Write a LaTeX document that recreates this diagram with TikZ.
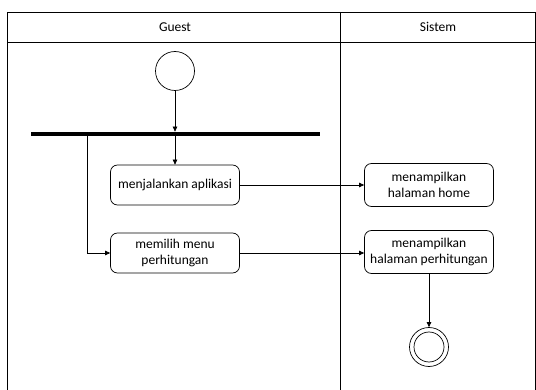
\documentclass[tikz,border=0pt]{standalone}
\usepackage{fontspec}
\setmainfont{Carlito}
\usetikzlibrary{arrows.meta}

\begin{document}
\begin{tikzpicture}[x=1pt,y=-1pt,line width=0.7pt,>={Triangle[length=5pt,width=4.5pt]},
font=\fontsize{13.5}{15.5}\selectfont,
act/.style={draw,rounded corners=7pt,minimum width=129pt,minimum height=40pt,align=center,inner sep=1pt},
state/.style={draw,circle,minimum size=39pt,inner sep=0pt}]
\useasboundingbox(0,0)rectangle(536,390);
% swimlanes
\draw(7,390)--(7,12)--(535,12)--(535,390)
(7,42)--(535,42)
(340,12)--(340,390);
\node(guest)at(175,27){Guest};
\node(sistem)at(438,27){Sistem};
% guest
\node[state](start)at(175,71){};
\node[fill,inner sep=0pt,minimum width=289pt,minimum height=4pt](bar)at(175.5,134){};
\node[act](run)at(175,185){menjalankan aplikasi};
\node[act](menu)at(175,253){memilih menu\\perhitungan};
% sistem
\node[act,minimum height=43pt](home)at(429,185){menampilkan\\halaman home};
\node[act,minimum height=43pt](hitung)at(429,252){menampilkan\\halaman perhitungan};
\node[state](end)at(429,347){};
\node[state,minimum size=30pt](endin)at(end){};
% alur
\draw[->](start)--(bar.north -| start);
\draw[->](bar.south -| run)--(run);
\draw[->]([xshift=57pt]bar.south west)|-(menu.west);
\draw[->](run)--(home);
\draw[->](menu.east)--(menu.east -| hitung.west);
\draw[->](hitung)--(end);
\end{tikzpicture}
\end{document}
